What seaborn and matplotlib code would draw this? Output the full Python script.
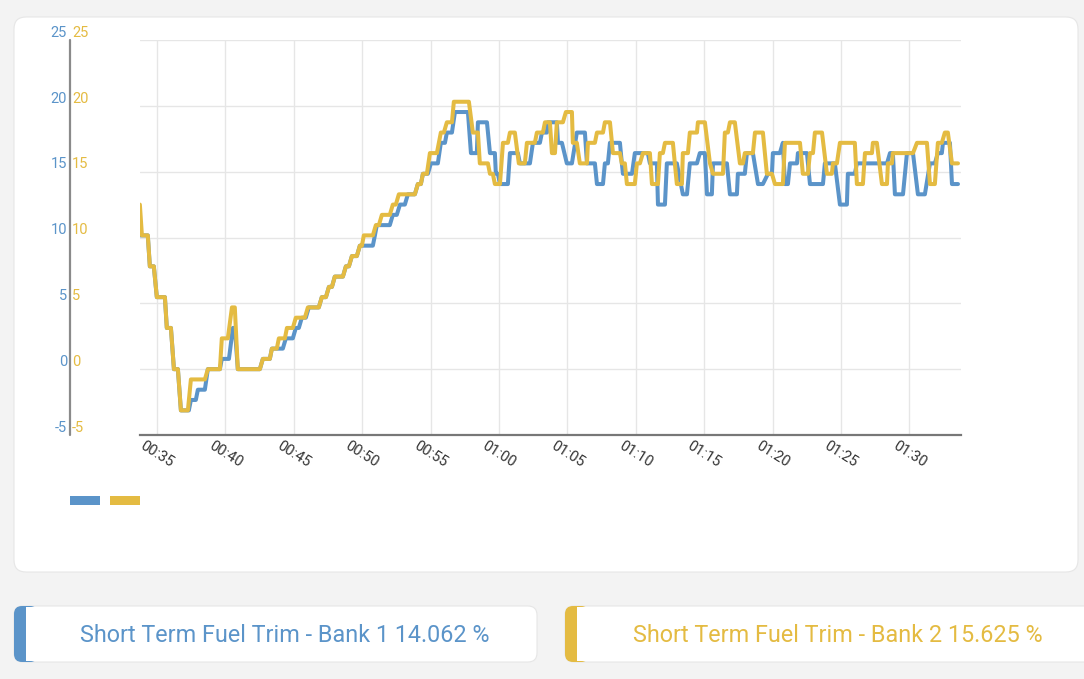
import matplotlib
matplotlib.use("Agg")
import matplotlib.pyplot as plt
import matplotlib.transforms as mtransforms
from matplotlib.patches import FancyBboxPatch, Rectangle
import seaborn as sns
import pandas as pd

# time in minutes after midnight, value in %
bank1_t = [33.75, 34.33, 34.48, 34.77, 34.99, 35.58, 35.72, 36.02, 36.24, 36.53,
           36.75, 37.33, 37.48, 37.84, 37.99, 38.50, 38.72, 39.60, 39.74, 40.26,
           40.55, 40.69, 40.91, 42.52, 42.74, 43.25, 43.40, 44.20, 44.42, 44.93,
           45.15, 45.37, 45.59, 45.88, 46.10, 46.83, 47.05, 47.35, 47.57, 47.79,
           48.00, 48.59, 48.81, 49.03, 49.25, 49.61, 49.83, 50.78, 50.93, 51.07,
           52.02, 52.24, 52.53, 52.76, 53.12, 53.34, 53.85, 54.07, 54.29, 54.44,
           54.80, 55.02, 55.53, 55.75, 56.05, 56.19, 56.56, 56.78, 57.73, 57.95,
           58.38, 58.46, 59.12, 59.34, 59.70, 59.77, 59.92, 60.07, 60.65, 60.80,
           61.38, 61.53, 62.26, 62.48, 62.99, 63.14, 63.50, 63.57, 64.23, 64.31,
           64.60, 64.96, 65.33, 65.69, 66.28, 66.43, 67.01, 67.16, 67.60, 67.74,
           67.96, 68.11, 68.84, 68.98, 69.06, 69.72, 69.93, 70.88, 71.03, 71.54,
           71.62, 72.13, 72.27, 73.00, 73.44, 73.74, 73.95, 74.47, 74.68, 75.05,
           75.20, 75.56, 75.64, 76.66, 76.88, 77.39, 77.46, 77.97, 78.12, 78.56,
           78.93, 79.29, 79.66, 79.95, 80.02, 80.53, 80.75, 80.90, 81.12, 81.27,
           81.78, 81.85, 82.51, 82.73, 83.68, 83.82, 84.55, 84.92, 85.43, 85.50,
           86.01, 86.16, 88.36, 88.58, 88.79, 88.94, 89.53, 89.82, 90.26, 90.62,
           91.13, 91.50, 91.86, 92.08, 92.37, 92.45, 92.96, 93.11, 93.55]
bank1_v = [10.16, 10.16, 7.81, 7.81, 5.47, 5.47, 3.13, 3.13, 0, 0,
           -3.13, -3.13, -2.34, -2.34, -1.56, -1.56, 0, 0, 0.78, 0.78,
           3.13, 3.13, 0, 0, 0.78, 0.78, 1.56, 1.56, 2.34, 2.34,
           3.13, 3.13, 3.91, 3.91, 4.69, 4.69, 5.47, 5.47, 6.25, 6.25,
           7.03, 7.03, 7.81, 7.81, 8.59, 8.59, 9.38, 9.38, 10.16, 10.94,
           10.94, 11.72, 11.72, 12.5, 12.5, 13.28, 13.28, 14.06, 14.06, 14.84,
           14.84, 15.63, 15.63, 17.19, 17.19, 17.97, 17.97, 19.53, 19.53, 16.41,
           16.41, 18.75, 18.75, 16.41, 16.41, 14.84, 14.84, 14.06, 14.06, 16.41,
           16.41, 15.63, 15.63, 17.19, 17.19, 17.97, 17.97, 18.75, 18.75, 17.19,
           17.19, 15.63, 15.63, 17.97, 17.97, 15.63, 15.63, 14.06, 14.06, 15.63,
           15.63, 17.19, 17.19, 15.63, 14.84, 14.84, 16.41, 16.41, 15.63, 15.63,
           12.5, 12.5, 15.63, 15.63, 13.28, 13.28, 15.63, 15.63, 16.41, 16.41,
           13.28, 13.28, 15.63, 15.63, 13.28, 13.28, 14.84, 14.84, 16.41, 16.41,
           14.06, 14.06, 14.84, 14.84, 16.41, 16.41, 17.19, 14.06, 14.06, 15.63,
           15.63, 16.41, 16.41, 14.06, 14.06, 15.63, 15.63, 12.5, 12.5, 14.84,
           14.84, 15.63, 15.63, 16.41, 16.41, 13.28, 13.28, 16.41, 16.41, 13.28,
           13.28, 15.63, 15.63, 16.41, 16.41, 17.19, 17.19, 14.06, 14.06]

bank2_t = [33.75, 33.90, 34.33, 34.48, 34.77, 34.99, 35.58, 35.72, 36.02, 36.24,
           36.53, 36.75, 37.26, 37.48, 38.50, 38.72, 39.60, 39.74, 40.18, 40.48,
           40.69, 40.91, 42.52, 42.74, 43.25, 43.40, 43.76, 43.91, 44.35, 44.50,
           44.93, 45.15, 45.81, 46.03, 46.83, 47.05, 47.35, 47.57, 47.79, 48.00,
           48.59, 48.81, 49.03, 49.25, 49.61, 49.83, 49.98, 50.12, 50.78, 51.00,
           51.22, 51.44, 52.02, 52.24, 52.46, 52.68, 53.85, 54.07, 54.29, 54.44,
           54.73, 54.95, 55.46, 55.75, 55.97, 56.19, 56.56, 56.70, 57.80, 58.09,
           58.46, 58.60, 59.19, 59.34, 59.55, 59.70, 60.07, 60.29, 60.65, 60.80,
           61.16, 61.45, 61.89, 62.04, 62.62, 62.77, 63.21, 63.36, 63.72, 63.87,
           64.09, 64.23, 64.67, 64.89, 65.33, 65.40, 65.69, 65.91, 66.43, 66.50,
           67.01, 67.16, 67.60, 67.74, 68.11, 68.33, 68.84, 68.98, 69.20, 69.35,
           69.93, 70.08, 70.30, 70.52, 71.03, 71.18, 71.62, 71.76, 71.98, 72.13,
           72.71, 73.00, 73.37, 73.44, 73.81, 73.95, 74.47, 74.54, 75.05, 75.42,
           75.64, 76.37, 76.51, 76.73, 76.88, 77.24, 77.61, 77.83, 77.97, 78.56,
           78.71, 79.29, 79.58, 79.95, 80.17, 80.75, 80.90, 82.00, 82.21, 82.58,
           82.73, 82.95, 83.09, 83.61, 83.97, 84.33, 84.41, 84.70, 84.92, 86.01,
           86.16, 86.60, 86.75, 87.26, 87.33, 87.62, 87.99, 88.36, 88.43, 88.72,
           88.79, 90.26, 90.55, 91.28, 91.50, 91.86, 92.08, 92.37, 92.59, 92.81,
           93.11, 93.55]
bank2_v = [12.5, 10.16, 10.16, 7.81, 7.81, 5.47, 5.47, 3.13, 3.13, 0,
           0, -3.13, -3.13, -0.78, -0.78, 0, 0, 2.34, 2.34, 4.69,
           4.69, 0, 0, 0.78, 0.78, 1.56, 1.56, 2.34, 2.34, 3.13,
           3.13, 3.91, 3.91, 4.69, 4.69, 5.47, 5.47, 6.25, 6.25, 7.03,
           7.03, 7.81, 7.81, 8.59, 8.59, 9.38, 9.38, 10.16, 10.16, 10.94,
           10.94, 11.72, 11.72, 12.5, 12.5, 13.28, 13.28, 14.06, 14.06, 14.84,
           14.84, 16.41, 16.41, 17.97, 17.97, 18.75, 18.75, 20.31, 20.31, 17.97,
           17.97, 15.63, 15.63, 14.84, 14.84, 14.06, 14.06, 17.19, 17.19, 17.97,
           17.97, 15.63, 15.63, 17.19, 17.19, 17.97, 17.97, 18.75, 18.75, 16.41,
           16.41, 18.75, 18.75, 19.53, 19.53, 17.19, 17.19, 15.63, 15.63, 17.19,
           17.19, 17.97, 17.97, 18.75, 18.75, 16.41, 16.41, 15.63, 15.63, 14.06,
           14.06, 15.63, 15.63, 16.41, 16.41, 14.06, 14.06, 16.41, 16.41, 17.19,
           17.19, 14.06, 14.06, 16.41, 16.41, 17.97, 17.97, 18.75, 18.75, 15.63,
           14.84, 14.84, 17.97, 17.97, 18.75, 18.75, 15.63, 15.63, 16.41, 16.41,
           17.97, 17.97, 14.84, 14.84, 14.06, 14.06, 17.19, 17.19, 14.84, 14.84,
           16.41, 16.41, 17.97, 17.97, 14.84, 14.84, 15.63, 15.63, 17.19, 17.19,
           14.06, 14.06, 16.41, 16.41, 17.19, 17.19, 14.06, 14.06, 15.63, 15.63,
           16.41, 16.41, 17.19, 17.19, 14.06, 14.06, 17.19, 17.19, 17.97, 17.97,
           15.63, 15.63]

names = ["Short Term Fuel Trim - Bank 1", "Short Term Fuel Trim - Bank 2"]
current = ["14.062", "15.625"]
y_ticks = [-5, 0, 5, 10, 15, 20, 25]
x_ticks = [35, 40, 45, 50, 55, 60, 65, 70, 75, 80, 85, 90]
x_labels = ["00:35", "00:40", "00:45", "00:50", "00:55", "01:00",
            "01:05", "01:10", "01:15", "01:20", "01:25", "01:30"]

BLUE = "#5b94c9"
YELLOW = "#e4bb42"

sns.set_theme(style="white")
plt.rcParams['font.family'] = ['Roboto', 'DejaVu Sans']

W, H = 1084, 679
fig = plt.figure(figsize=(W / 100, H / 100), dpi=100)
fig.patch.set_facecolor("#f3f3f3")

# background layer in pixel units for the cards
bg = fig.add_axes([0, 0, 1, 1])
bg.set_xlim(0, W)
bg.set_ylim(H, 0)
bg.axis("off")


def card(x0, y0, x1, y1, fc="white", r=10, ec="#e6e6e6", z=1):
    bg.add_patch(FancyBboxPatch((x0, y0), x1 - x0, y1 - y0,
                                boxstyle=f"round,pad=0,rounding_size={r}",
                                fc=fc, ec=ec, lw=0.8, zorder=z))


card(14, 17, 1078, 572, r=12)

# value cards
for (x0, x1, tx), col, name, val in zip([(14, 537, 285), (565, 1100, 838)],
                                        [BLUE, YELLOW], names, current):
    card(x0, 606, x1, 662, r=9)
    card(x0, 606, x0 + 24, 662, fc=col, r=8, ec="none", z=2)
    bg.add_patch(Rectangle((x0 + 12, 607), 20, 54, fc="white", ec="none", zorder=3))
    bg.text(tx, 635, f"{name} {val} %", color=col,
            fontsize=16.8, ha="center", va="center", zorder=4)

# legend boxes
for i, col in enumerate([BLUE, YELLOW]):
    bg.add_patch(Rectangle((70 + 40 * i, 496), 30, 9, fc=col, ec="none"))

# left shared axis line
bg.plot([69.5, 69.5], [40, 435], color="#8a8a8a", lw=1.6)

ax = fig.add_axes([140 / W, 1 - 435 / H, 821 / W, 395 / H])
ax.set_facecolor("none")

df = pd.concat([
    pd.DataFrame({"time": bank1_t, "trim": bank1_v, "bank": names[0]}),
    pd.DataFrame({"time": bank2_t, "trim": bank2_v, "bank": names[1]}),
])
sns.lineplot(data=df, x="time", y="trim", hue="bank", palette=[BLUE, YELLOW],
             estimator=None, sort=False, lw=2.9, legend=False, ax=ax)

ax.set_xlim(33.76, 93.77)
ax.set_ylim(-5, 25)
ax.set_xticks(x_ticks)
ax.set_xticklabels(x_labels, rotation=-32, ha="center", va="top")
ax.set_yticks(y_ticks)
ax.tick_params(axis="x", length=0, pad=3, labelsize=10.5, colors="#333333")
ax.tick_params(axis="y", length=0, labelleft=False)
ax.grid(True, color="#e6e6e6", lw=1)
ax.set_xlabel("")
ax.set_ylabel("")
for s in ["top", "right", "left"]:
    ax.spines[s].set_visible(False)
ax.spines["bottom"].set_color("#777777")
ax.spines["bottom"].set_linewidth(1.6)

trans = mtransforms.blended_transform_factory(bg.transData, ax.transData)
for v in y_ticks:
    ax.text(67, v + 0.55, str(v), transform=trans, ha="right", va="center",
            color=BLUE, fontsize=10.5)
    ax.text(72, v + 0.55, str(v), transform=trans, ha="left", va="center",
            color=YELLOW, fontsize=10.5)

fig.savefig("out.png", dpi=100, facecolor=fig.get_facecolor())
